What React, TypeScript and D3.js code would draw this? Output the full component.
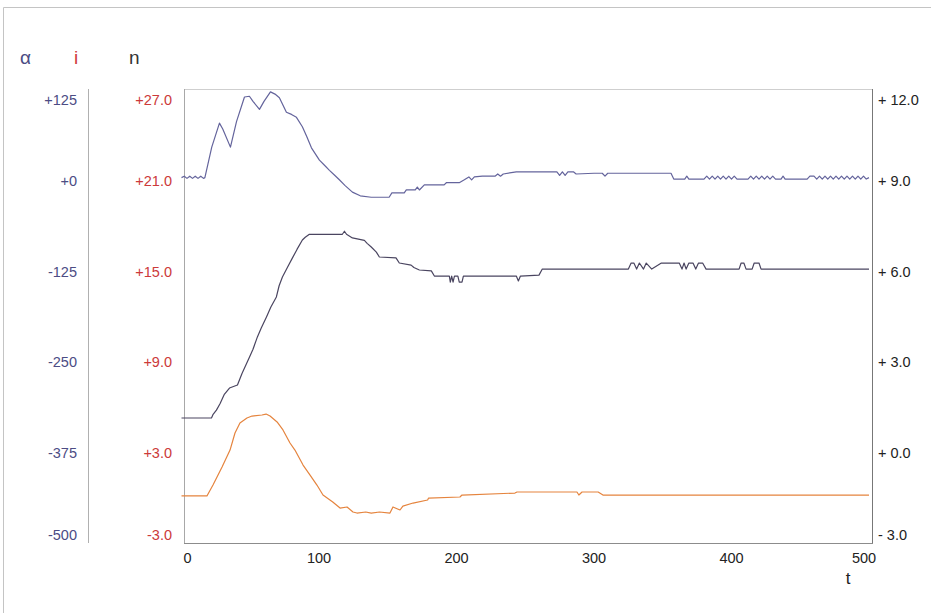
import React, { useRef, useEffect } from "react";
import * as d3 from "d3";

const width = 931;
const height = 613;

// tick values of the three vertical scales and the time axis
const alphaTicks = [125, 0, -125, -250, -375, -500];
const iTicks = [27, 21, 15, 9, 3, -3];
const nTicks = [12, 9, 6, 3, 0, -3];
const tTicks = [0, 100, 200, 300, 400, 500];

// alpha (blue, top trace) : [t, alpha]
const alphaSeries = [
  [0, 3], [2, 5], [4, 2], [6, 5], [8, 2], [10, 5], [12, 2], [14, 5], [16, 2], [17, 3],
  [22, 45], [27.6, 78], [30, 70], [35.6, 45], [40, 80], [45.8, 114], [49.4, 115],
  [52, 108], [56.7, 97], [60, 108], [64.7, 121], [68, 118], [71.2, 113], [76.3, 93],
  [80, 90], [83.6, 86], [87.9, 73], [91, 60], [94.5, 44], [100.3, 27], [104, 20],
  [107.6, 13], [111, 7], [114.8, 0], [119, -8], [124.3, -17], [130, -22], [138, -24],
  [151, -24], [153, -18], [162, -18], [163.5, -14], [170, -14], [171.5, -10], [173, -14],
  [176.6, -7], [191, -7], [192.6, -4], [202, -4], [205.7, 0], [209, 4], [211, 0], [213, 4],
  [218.8, 5], [228, 5], [230, 8], [232, 5], [234, 8], [243.5, 11], [273, 11], [275, 6],
  [277, 11], [279, 6], [281, 11], [285, 11], [287, 8], [300, 9], [306, 9], [308, 5],
  [310, 9], [356, 9], [358, 1], [366, 1], [367.5, 5], [369, 1], [380, 1], [382, 5],
  [384, 1], [386, 5], [388, 1], [390, 5], [392, 1], [394, 5], [396, 1], [398, 5], [400, 1],
  [402, 5], [404, 1], [412, 1], [414, 5], [416, 1], [418, 5], [420, 1], [422, 5], [424, 1],
  [426, 5], [428, 1], [430, 5], [432, 1], [436, 1], [437.5, 5], [439, 1], [455, 1],
  [457, 5], [460, 5], [462, 1], [464, 5], [466, 1], [468, 5], [470, 1], [472, 5], [474, 1],
  [476, 5], [478, 1], [480, 5], [482, 1], [484, 5], [486, 1], [488, 5], [490, 1],
  [492, 5], [494, 1], [496, 5], [498, 1], [500, 3],
];

// n (dark, middle trace) : [t, n]
const nSeries = [
  [0, 1.13], [21.8, 1.13], [23, 1.25], [25.4, 1.39], [28, 1.6], [31, 1.9], [34.9, 2.12],
  [40.7, 2.22], [44, 2.6], [49.4, 3.14], [52, 3.4], [55.2, 3.81], [58, 4.1], [61.8, 4.47],
  [65, 4.8], [69, 5.13], [71, 5.5], [73.4, 5.79], [77, 6.1], [80.7, 6.42], [84, 6.7],
  [87.9, 7.01], [90, 7.1], [93, 7.2], [117, 7.2], [118.5, 7.3], [120, 7.2], [124.3, 7.08],
  [133, 7.0], [135, 6.9], [138, 6.78], [141.7, 6.61], [143.9, 6.45], [156, 6.42],
  [158.4, 6.25], [167, 6.18], [169, 6.1], [173, 6.02], [181.7, 5.99], [183.9, 5.82],
  [194.8, 5.82], [195.5, 5.62], [196.5, 5.82], [197.5, 5.62], [198.5, 5.82], [201, 5.82],
  [202, 5.62], [204, 5.62], [205, 5.82], [243.5, 5.82], [245, 5.66], [246.5, 5.82],
  [260, 5.85], [262.4, 6.05], [325, 6.05], [327, 6.25], [329, 6.25], [331, 6.05],
  [333, 6.25], [336, 6.05], [338, 6.25], [342, 6.05], [349, 6.25], [362, 6.25],
  [364, 6.05], [365.5, 6.25], [367, 6.05], [369, 6.25], [372, 6.25], [374, 6.05],
  [376, 6.25], [379, 6.25], [381.5, 6.05], [405.5, 6.05], [407, 6.25], [409, 6.25],
  [410.6, 6.05], [415, 6.05], [416.5, 6.25], [420, 6.25], [421.5, 6.05], [500, 6.05],
];

// i (orange, bottom trace) : [t, i]
const iSeries = [
  [0, 0.11], [18.5, 0.11], [22.9, 0.83], [29.5, 2.02], [35.3, 3.14], [38.9, 4.27],
  [42.5, 4.93], [47.6, 5.26], [51.3, 5.39], [58.5, 5.46], [61.5, 5.52], [64.4, 5.39],
  [69.5, 5.0], [73.8, 4.47], [78.9, 3.61], [82.5, 3.14], [88.4, 2.15], [93.5, 1.49],
  [98.5, 0.83], [102.9, 0.17], [110, -0.29], [115.3, -0.69], [120.4, -0.62],
  [124.7, -0.95], [127.6, -1.02], [134, -0.95], [138, -1.02], [144, -0.95],
  [151.6, -1.02], [153.8, -0.62], [158.9, -0.82], [161, -0.56], [168.4, -0.36],
  [179, -0.16], [179.7, -0.03], [202.5, 0.04], [204, 0.17], [242.5, 0.3], [244, 0.37],
  [287.6, 0.37], [289, 0.17], [291.3, 0.37], [303, 0.37], [306.5, 0.17], [500, 0.17],
];

const Chart = () => {
  const ref = useRef(null);

  useEffect(() => {
    const svg = d3.select(ref.current);
    svg.selectChildren().remove();

    const top = 89, bottom = 543, left = 184, right = 872;
    const font = "'Liberation Sans', Arial, sans-serif";

    const x = d3.scaleLinear().domain([0, 500]).range([181.5, 869]);
    const yAlpha = d3.scaleLinear().domain([-500, 125]).range([bottom, top]);
    const yI = d3.scaleLinear().domain([-3, 27]).range([bottom, top]);
    const yN = d3.scaleLinear().domain([-3, 12]).range([bottom, top]);

    // page frame (scan border)
    svg.append("path")
      .attr("d", `M3.5,${height} V7.5 H${width}`)
      .attr("fill", "none")
      .attr("stroke", "#c4c4c4");

    // plot frame
    const frame = svg.append("g").attr("fill", "none").attr("stroke-width", 1);
    frame.append("line").attr("x1", left).attr("x2", right).attr("y1", top + 0.5).attr("y2", top + 0.5).attr("stroke", "#cfcfcf");
    frame.append("line").attr("x1", left + 0.5).attr("x2", left + 0.5).attr("y1", top).attr("y2", bottom).attr("stroke", "#a8a8a8");
    frame.append("line").attr("x1", right + 0.5).attr("x2", right + 0.5).attr("y1", top).attr("y2", bottom).attr("stroke", "#777");
    frame.append("line").attr("x1", left).attr("x2", right + 1).attr("y1", bottom + 0.5).attr("y2", bottom + 0.5).attr("stroke", "#8c8c8c");
    // alpha axis line
    frame.append("line").attr("x1", 88.5).attr("x2", 88.5).attr("y1", top).attr("y2", bottom).attr("stroke", "#b0b0b0");

    // scale headers
    const head = svg.append("g").style("font-family", font).style("font-size", "19px");
    head.append("text").attr("x", 20).attr("y", 64).attr("fill", "#4c4c84").text("α");
    head.append("text").attr("x", 74).attr("y", 64).attr("fill", "#d03c3c").text("i");
    head.append("text").attr("x", 129).attr("y", 64).attr("fill", "#333").text("n");

    // tick labels: first one pushed down, last one pushed up (as in the original)
    const shift = (k, n) => (k === 0 ? 11 : k === n - 1 ? -8 : 1);
    const labels = svg.append("g").style("font-family", font).style("font-size", "14.5px");

    labels.selectAll("text.alpha").data(alphaTicks).enter().append("text")
      .attr("class", "alpha")
      .attr("x", 77)
      .attr("y", (d, k) => yAlpha(d) + shift(k, alphaTicks.length))
      .attr("dy", "0.35em")
      .attr("text-anchor", "end")
      .attr("fill", "#4c4c84")
      .text((d) => (d >= 0 ? "+" : "-") + Math.abs(d));

    labels.selectAll("text.i").data(iTicks).enter().append("text")
      .attr("class", "i")
      .attr("x", 172)
      .attr("y", (d, k) => yI(d) + shift(k, iTicks.length))
      .attr("dy", "0.35em")
      .attr("text-anchor", "end")
      .attr("fill", "#cc3a3a")
      .text((d) => (d >= 0 ? "+" : "-") + Math.abs(d).toFixed(1));

    labels.selectAll("text.n").data(nTicks).enter().append("text")
      .attr("class", "n")
      .attr("x", 878)
      .attr("y", (d, k) => yN(d) + shift(k, nTicks.length))
      .attr("dy", "0.35em")
      .attr("fill", "#222")
      .text((d) => (d >= 0 ? "+ " : "- ") + Math.abs(d).toFixed(1));

    labels.selectAll("text.t").data(tTicks).enter().append("text")
      .attr("class", "t")
      .attr("x", (d, k) => x(d) + (k === 0 ? 6 : k === tTicks.length - 1 ? -5 : 0))
      .attr("y", 558)
      .attr("dy", "0.35em")
      .attr("text-anchor", "middle")
      .attr("fill", "#222")
      .text((d) => String(d));

    svg.append("text")
      .attr("x", 848).attr("y", 584)
      .attr("text-anchor", "middle")
      .style("font-family", font).style("font-size", "17px")
      .attr("fill", "#222")
      .text("t");

    // traces
    const trace = (data, y, color) =>
      svg.append("path")
        .attr("d", d3.line().x((d) => x(d[0])).y((d) => y(d[1]))(data))
        .attr("fill", "none")
        .attr("stroke", color)
        .attr("stroke-width", 1.2)
        .attr("stroke-linejoin", "round");

    trace(alphaSeries, yAlpha, "#64649c");
    trace(nSeries, yN, "#4a4560");
    trace(iSeries, yI, "#e5843e");
  }, []);

  return <svg ref={ref} width={width} height={height} style={{ position: "absolute", left: 0, top: 0, background: "#fff" }} />;
};

export default function App() {
  return <Chart />;
}
